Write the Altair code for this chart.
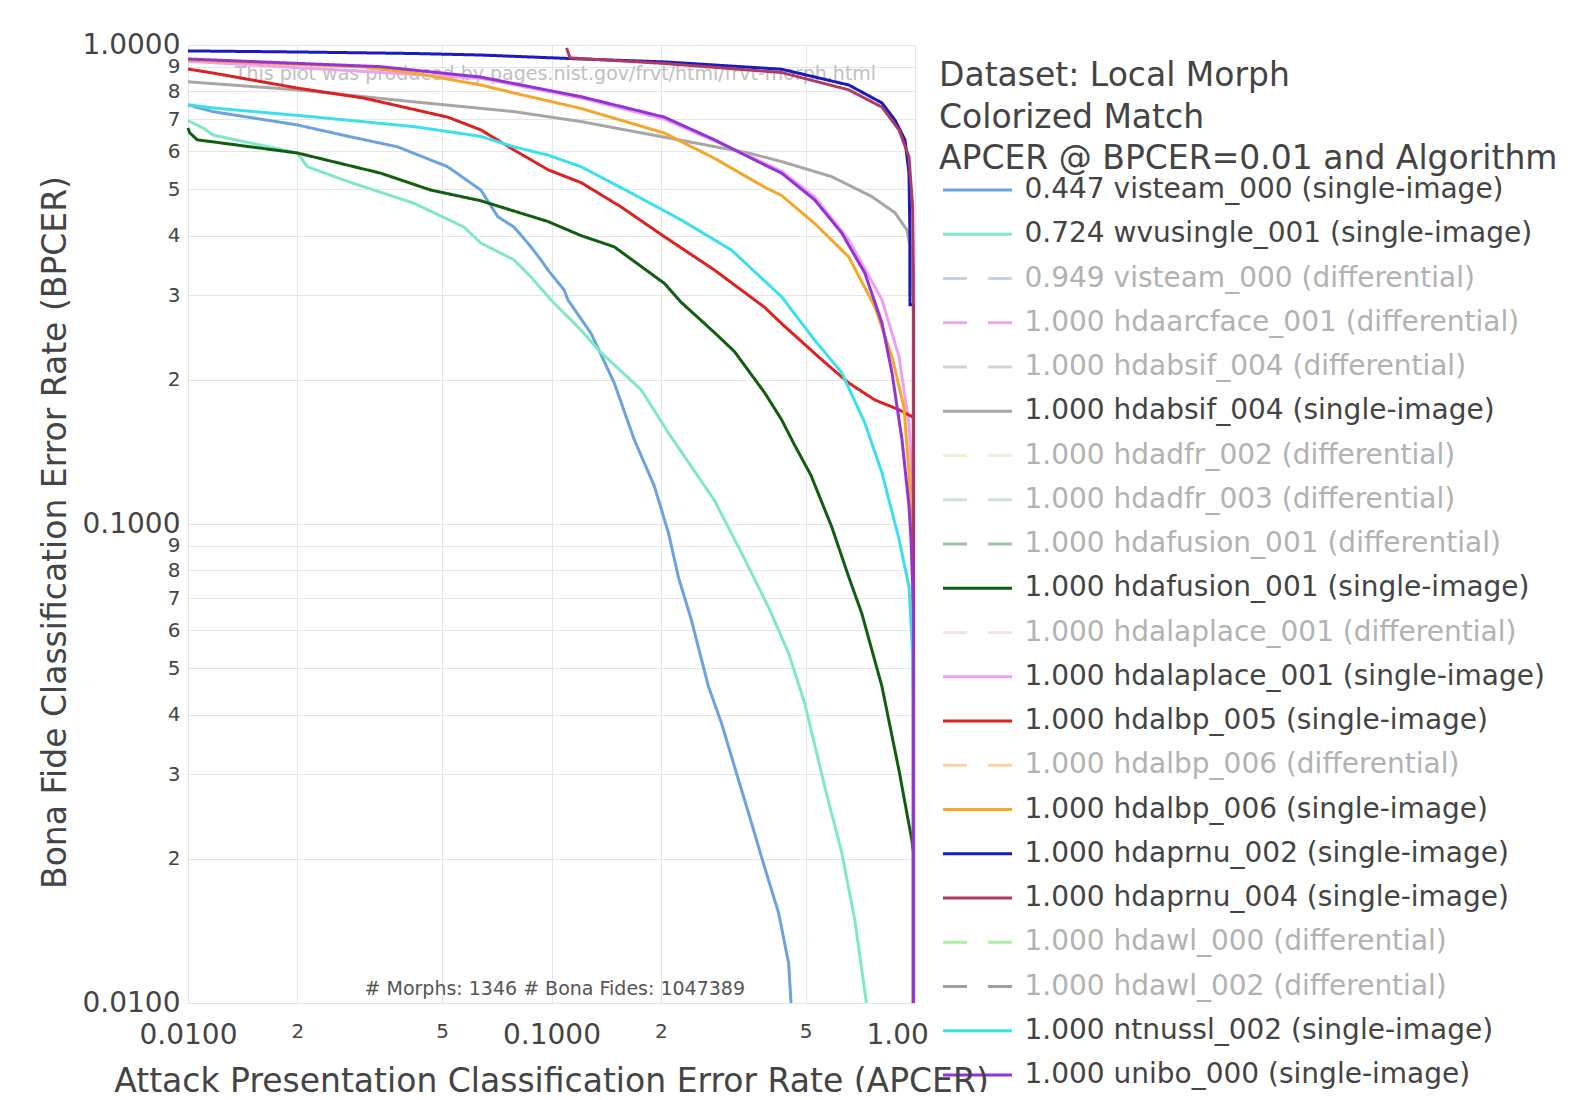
import altair as alt
import pandas as pd

FONT = "DejaVu Sans"

# ---------------- legend entries ----------------
series_names = [
    "0.447 visteam_000 (single-image)",
    "0.724 wvusingle_001 (single-image)",
    "0.949 visteam_000 (differential)",
    "1.000 hdaarcface_001 (differential)",
    "1.000 hdabsif_004 (differential)",
    "1.000 hdabsif_004 (single-image)",
    "1.000 hdadfr_002 (differential)",
    "1.000 hdadfr_003 (differential)",
    "1.000 hdafusion_001 (differential)",
    "1.000 hdafusion_001 (single-image)",
    "1.000 hdalaplace_001 (differential)",
    "1.000 hdalaplace_001 (single-image)",
    "1.000 hdalbp_005 (single-image)",
    "1.000 hdalbp_006 (differential)",
    "1.000 hdalbp_006 (single-image)",
    "1.000 hdaprnu_002 (single-image)",
    "1.000 hdaprnu_004 (single-image)",
    "1.000 hdawl_000 (differential)",
    "1.000 hdawl_002 (differential)",
    "1.000 ntnussl_002 (single-image)",
    "1.000 unibo_000 (single-image)",
]
series_colors = [
    "#6ba3dc", "#80e8c8", "#c3d3e6", "#eaa6ea", "#d2d2d2", "#a6a6a6",
    "#f1efd2", "#d0dede", "#a6c2a6", "#115e11", "#f6dff0", "#f0a0f0",
    "#dd2222", "#f4d3a0", "#f3a72b", "#1a1ac0", "#b03a60", "#aeeca8",
    "#a0a0a0", "#3ce0ec", "#9433d6",
]
SOLID = [1, 0]
DASH = [24, 21]
series_dashes = [
    SOLID, SOLID, DASH, DASH, DASH, SOLID, DASH, DASH, DASH, SOLID, DASH,
    SOLID, SOLID, DASH, SOLID, SOLID, SOLID, DASH, DASH, SOLID, SOLID,
]

# ---------------- curves (APCER, BPCER) ----------------
visteam_x = [0.0100, 0.0117, 0.0200, 0.0275, 0.0377, 0.0518, 0.0639, 0.0712, 0.0788, 0.0878,
             0.0935, 0.0978, 0.1083, 0.1110, 0.1285, 0.1488, 0.1689, 0.1918, 0.2096, 0.2234,
             0.2426, 0.2702, 0.2935, 0.3270, 0.3485, 0.3857, 0.4216, 0.4492, 0.4560]
visteam_y = [0.750, 0.726, 0.681, 0.645, 0.613, 0.557, 0.498, 0.438, 0.417, 0.379,
             0.356, 0.339, 0.308, 0.2935, 0.250, 0.197, 0.150, 0.120, 0.096, 0.0775,
             0.063, 0.0458, 0.0384, 0.0292, 0.0249, 0.0192, 0.0154, 0.0121, 0.0100]

wvu_x = [0.0100, 0.0110, 0.0117, 0.0200, 0.0213, 0.0275, 0.0418, 0.0574, 0.0639, 0.0788,
         0.0878, 0.0997, 0.1206, 0.1344, 0.1766, 0.2096, 0.2807, 0.3333, 0.3956, 0.4492,
         0.4970, 0.5645, 0.6288, 0.6830, 0.7350]
wvu_y = [0.695, 0.671, 0.649, 0.595, 0.557, 0.519, 0.4675, 0.417, 0.386, 0.356,
         0.328, 0.2935, 0.254, 0.231, 0.1905, 0.155, 0.112, 0.087, 0.067, 0.0537,
         0.0423, 0.0283, 0.0206, 0.0149, 0.0100]

absif_x = [0.0100, 0.0200, 0.0418, 0.0788, 0.1206, 0.2044, 0.3485, 0.4297, 0.5902, 0.7611,
           0.8808, 0.9505, 0.9687, 0.9687]
absif_y = [0.838, 0.806, 0.761, 0.726, 0.692, 0.642, 0.595, 0.571, 0.531, 0.4825,
           0.4465, 0.411, 0.380, 0.300]

fusion_x = [0.0100, 0.0101, 0.0106, 0.0200, 0.0339, 0.0465, 0.0639, 0.0978, 0.1206, 0.1488,
            0.2044, 0.2277, 0.2807, 0.3188, 0.3857, 0.4297, 0.4667, 0.5170, 0.5902,
            0.6574, 0.7141, 0.8110, 0.9036, 0.9800, 0.9900, 0.9900]
fusion_y = [0.671, 0.656, 0.634, 0.595, 0.540, 0.498, 0.473, 0.428, 0.400, 0.379,
            0.318, 0.2900, 0.251, 0.229, 0.188, 0.165, 0.146, 0.1265, 0.0986,
            0.0775, 0.065, 0.0458, 0.0306, 0.0219, 0.0206, 0.0100]

laplace_x = [0.0100, 0.0639, 0.1206, 0.2044, 0.3485, 0.4297, 0.5297, 0.6574, 0.8110, 0.9036,
             0.9626, 0.9900, 0.9900]
laplace_y = [0.925, 0.852, 0.775, 0.700, 0.587, 0.545, 0.482, 0.392, 0.294, 0.2235,
             0.162, 0.109, 0.0100]

lbp5_x = [0.0100, 0.0117, 0.0200, 0.0304, 0.0518, 0.0639, 0.0788, 0.0978, 0.1206, 0.1555,
          0.2044, 0.2807, 0.3857, 0.4297, 0.5538, 0.6574, 0.7758, 0.9036, 0.9900, 0.9900]
lbp5_y = [0.891, 0.874, 0.813, 0.775, 0.707, 0.665, 0.604, 0.549, 0.516, 0.459,
          0.398, 0.339, 0.2834, 0.262, 0.2203, 0.197, 0.1815, 0.1732, 0.167, 0.0100]

lbp6_x = [0.0100, 0.0304, 0.0418, 0.0639, 0.0788, 0.1206, 0.2044, 0.2807, 0.3857, 0.4297,
          0.5297, 0.6574, 0.7758, 0.8643, 0.9326, 0.9626, 0.9800, 0.9900, 0.9900]
lbp6_y = [0.930, 0.900, 0.874, 0.825, 0.794, 0.737, 0.655, 0.580, 0.505, 0.485,
          0.424, 0.361, 0.284, 0.2235, 0.175, 0.128, 0.093, 0.050, 0.0100]

prnu2_x = [0.0100, 0.0200, 0.0418, 0.0639, 0.1206, 0.2044, 0.4297, 0.6574, 0.8110, 0.8808,
           0.9385, 0.9626, 0.9687, 0.9687, 0.9900, 0.9900]
prnu2_y = [0.972, 0.967, 0.960, 0.953, 0.935, 0.922, 0.890, 0.825, 0.757, 0.697,
           0.634, 0.540, 0.392, 0.287, 0.287, 0.0100]

prnu4_x = [0.1100, 0.1125, 0.2044, 0.4297, 0.6574, 0.8110, 0.9036, 0.9626, 0.9850, 0.9900, 0.9900]
prnu4_y = [0.986, 0.940, 0.915, 0.876, 0.806, 0.742, 0.665, 0.584, 0.459, 0.334, 0.0100]

ntnu_x = [0.0100, 0.0117, 0.0221, 0.0418, 0.0639, 0.0788, 0.0978, 0.1206, 0.1657, 0.2277,
          0.3128, 0.4297, 0.5297, 0.6288, 0.7279, 0.8110, 0.9036, 0.9626, 0.9850, 0.9900, 0.9900]
ntnu_y = [0.750, 0.739, 0.708, 0.6755, 0.6445, 0.613, 0.589, 0.557, 0.491, 0.431,
          0.373, 0.298, 0.242, 0.207, 0.1625, 0.128, 0.093, 0.074, 0.0537, 0.040, 0.0100]

unibo_x = [0.0100, 0.0339, 0.0639, 0.1206, 0.2044, 0.2807, 0.3857, 0.4297, 0.5297, 0.6288,
           0.7279, 0.8110, 0.8643, 0.9209, 0.9626, 0.9750, 0.9900, 0.9900]
unibo_y = [0.935, 0.901, 0.857, 0.780, 0.707, 0.634, 0.562, 0.540, 0.475, 0.405,
           0.334, 0.263, 0.207, 0.150, 0.109, 0.093, 0.069, 0.0100]

curves = [
    ("0.447 visteam_000 (single-image)", visteam_x, visteam_y),
    ("0.724 wvusingle_001 (single-image)", wvu_x, wvu_y),
    ("1.000 hdabsif_004 (single-image)", absif_x, absif_y),
    ("1.000 hdafusion_001 (single-image)", fusion_x, fusion_y),
    ("1.000 hdalaplace_001 (single-image)", laplace_x, laplace_y),
    ("1.000 hdalbp_005 (single-image)", lbp5_x, lbp5_y),
    ("1.000 hdalbp_006 (single-image)", lbp6_x, lbp6_y),
    ("1.000 hdaprnu_002 (single-image)", prnu2_x, prnu2_y),
    ("1.000 hdaprnu_004 (single-image)", prnu4_x, prnu4_y),
    ("1.000 ntnussl_002 (single-image)", ntnu_x, ntnu_y),
    ("1.000 unibo_000 (single-image)", unibo_x, unibo_y),
]

rows = []
for name, xs, ys in curves:
    for i, (xv, yv) in enumerate(zip(xs, ys)):
        rows.append({"series": name, "apcer": xv, "bpcer": yv, "i": i})
df = pd.DataFrame(rows)

# ---------------- annotations ----------------
note_x = [0.01345]
note_y = [0.870]
note_text = ["This plot was produced by pages.nist.gov/frvt/html/frvt-morph.html"]
count_x = [0.1021]
count_y = [0.01069]
count_text = ["# Morphs: 1346 # Bona Fides: 1047389"]

x_title = "Attack Presentation Classification Error Rate (APCER)"
y_title = "Bona Fide Classification Error Rate (BPCER)"
legend_title = ["Dataset: Local Morph", "Colorized Match", "APCER @ BPCER=0.01 and Algorithm"]

# ---------------- ticks ----------------
x_tick_values = [0.01, 0.02, 0.05, 0.1, 0.2, 0.5, 1.0]
x_tick_labels = ["0.0100", "2", "5", "0.1000", "2", "5", "1.0000"]
y_tick_values = [1.0, 0.9, 0.8, 0.7, 0.6, 0.5, 0.4, 0.3, 0.2,
                 0.1, 0.09, 0.08, 0.07, 0.06, 0.05, 0.04, 0.03, 0.02, 0.01]
y_tick_labels = ["1.0000", "9", "8", "7", "6", "5", "4", "3", "2",
                 "0.1000", "9", "8", "7", "6", "5", "4", "3", "2", "0.0100"]


def label_expr(values, labels):
    expr = "''"
    for v, lab in reversed(list(zip(values, labels))):
        expr = f"abs(datum.value - {v}) < {v * 0.001} ? '{lab}' : ({expr})"
    return expr


major_test = "abs(log(datum.value)/log(10) - round(log(datum.value)/log(10))) < 0.001"
label_size = {"condition": {"test": major_test, "value": 28}, "value": 20}

x_enc = alt.X(
    "apcer:Q",
    scale=alt.Scale(type="log", domain=[0.01, 1.0], nice=False),
    axis=alt.Axis(
        title=None,
        values=x_tick_values,
        labelExpr=label_expr(x_tick_values, x_tick_labels),
        labelFontSize=label_size,
        labelColor="#444444",
        labelFont=FONT,
        labelPadding=18,
        labelFlush=False,
        labelOverlap=False,
        labelBaseline="top",
        ticks=False,
        tickSize=0,
        domain=False,
        grid=True,
        gridColor="#e6e6e6",
        gridWidth=1,
    ),
)
y_enc = alt.Y(
    "bpcer:Q",
    scale=alt.Scale(type="log", domain=[0.01, 1.0], nice=False),
    axis=alt.Axis(
        title=y_title,
        values=y_tick_values,
        labelExpr=label_expr(y_tick_values, y_tick_labels),
        labelFontSize=label_size,
        labelColor="#444444",
        labelFont=FONT,
        labelPadding=8,
        labelFlush=False,
        labelOverlap=False,
        ticks=False,
        tickSize=0,
        domain=False,
        grid=True,
        gridColor="#e6e6e6",
        gridWidth=1,
        titleFont=FONT,
        titleFontSize=33,
        titleFontWeight="normal",
        titleColor="#444444",
        titleAngle=270,
        titleX=-133,
        titleY=487,
        titleAlign="center",
        titleBaseline="middle",
    ),
)

legend = alt.Legend(
    title=legend_title,
    orient="none",
    legendX=741,
    legendY=5,
    direction="vertical",
    fillColor="white",
    padding=10,
    titleFont=FONT,
    titleFontSize=33,
    titleFontWeight="normal",
    titleColor="#444444",
    titleLineHeight=41.5,
    titlePadding=0,
    titleLimit=900,
    titleAnchor="start",
    labelFont=FONT,
    labelFontSize=28,
    labelColor={"expr": "indexof(datum.label, 'differential') >= 0 ? '#b2b2b2' : '#444444'"},
    labelLimit=900,
    labelOffset=11,
    symbolType="stroke",
    symbolSize=4761,
    symbolStrokeWidth=3,
    symbolOffset=2.5,
    clipHeight=28,
    rowPadding=16.25,
)

lines = alt.Chart(df).mark_line(strokeWidth=3).encode(
    x=x_enc,
    y=y_enc,
    color=alt.Color("series:N", scale=alt.Scale(domain=series_names, range=series_colors), legend=legend),
    strokeDash=alt.StrokeDash("series:N", scale=alt.Scale(domain=series_names, range=series_dashes), legend=legend),
    order=alt.Order("i:Q"),
)

note = alt.Chart(pd.DataFrame({"x": note_x, "y": note_y, "t": note_text})).mark_text(
    align="left", baseline="middle", fontSize=19, font=FONT, color="#c0c0c0"
).encode(x=alt.X("x:Q"), y=alt.Y("y:Q"), text="t:N")

count = alt.Chart(pd.DataFrame({"x": count_x, "y": count_y, "t": count_text})).mark_text(
    align="center", baseline="middle", fontSize=19, font=FONT, color="#555555"
).encode(x=alt.X("x:Q"), y=alt.Y("y:Q"), text="t:N")

chart = alt.layer(note, count, lines).properties(
    width=727,
    height=958,
    padding={"left": 180, "top": 37, "right": 663, "bottom": 89},
    autosize=alt.AutoSizeParams(type="none"),
    background="white",
    title=alt.TitleParams(
        text=x_title,
        orient="bottom",
        anchor="middle",
        frame="group",
        font=FONT,
        fontSize=33,
        fontWeight="normal",
        color="#444444",
        baseline="alphabetic",
        offset=-7,
    ),
).configure(font=FONT).configure_view(stroke=None)

chart.save("out.html", embed_options={"renderer": "svg", "actions": False})
